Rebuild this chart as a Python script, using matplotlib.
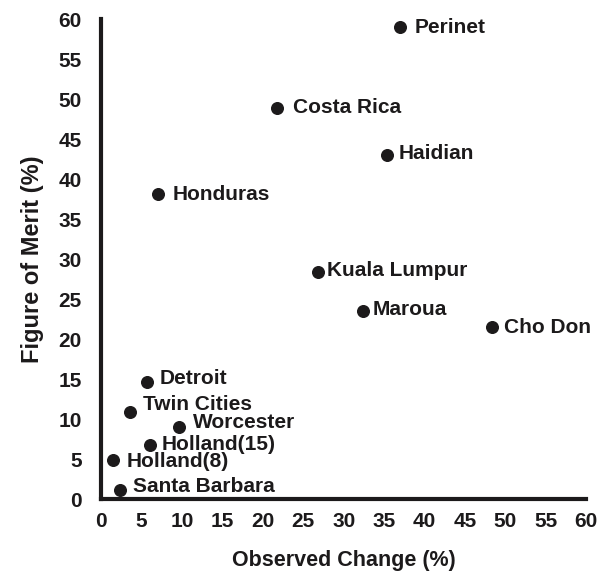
import matplotlib
matplotlib.use('Agg')
import matplotlib.pyplot as plt

# values
sites = ['Perinet', 'Costa Rica', 'Haidian', 'Honduras', 'Kuala Lumpur',
         'Maroua', 'Cho Don', 'Detroit', 'Twin Cities', 'Worcester',
         'Holland(15)', 'Holland(8)', 'Santa Barbara']
observed_change = [37.0, 21.8, 35.3, 7.0, 26.8, 32.4, 48.4, 5.7, 3.6, 9.7, 6.1, 1.5, 2.4]
figure_of_merit = [59.0, 48.9, 43.0, 38.1, 28.4, 23.5, 21.5, 14.7, 10.9, 9.0, 6.8, 4.9, 1.1]
ticks = list(range(0, 61, 5))

# label offsets in points (dx, dy)
offsets = [(10, 0), (11, 0), (9, 1), (11, 0), (7, 1), (7, 1), (8, 0),
           (9, 2), (9, 5), (10, 3), (8, 0), (10, -1), (9, 3)]

plt.rcParams['font.family'] = ['Liberation Sans', 'DejaVu Sans']
plt.rcParams['font.weight'] = 'bold'
ink = '#1c1a1b'

fig = plt.figure(figsize=(6.05, 5.79), dpi=100)
ax = fig.add_axes([0.167, 0.138, 0.802, 0.829])

ax.scatter(observed_change, figure_of_merit, s=70, color=ink, zorder=3, clip_on=False)
for name, x, y, off in zip(sites, observed_change, figure_of_merit, offsets):
    ax.annotate(name, (x, y), xytext=off, textcoords='offset points',
                ha='left', va='center', fontsize=15, fontweight='bold', color=ink)

ax.set_xlim(0, 60)
ax.set_ylim(0, 60)
ax.set_xticks(ticks)
ax.set_yticks(ticks)
ax.tick_params(length=0, labelsize=15, colors=ink)
ax.tick_params(axis='y', pad=14)
ax.tick_params(axis='x', pad=9)
for lab in ax.get_xticklabels() + ax.get_yticklabels():
    lab.set_fontweight('bold')

for side in ['top', 'right']:
    ax.spines[side].set_visible(False)
for side in ['left', 'bottom']:
    ax.spines[side].set_linewidth(3)
    ax.spines[side].set_color(ink)

ax.set_xlabel('Observed Change (%)', fontsize=15.5, fontweight='bold', color=ink, labelpad=14)
ax.set_ylabel('Figure of Merit (%)', fontsize=17, fontweight='bold', color=ink, labelpad=10)

fig.savefig('out.png', dpi=100)
